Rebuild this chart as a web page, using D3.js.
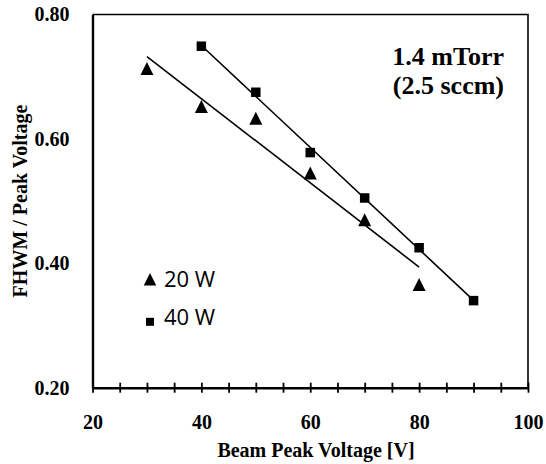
<!DOCTYPE html>
<html lang="en">
<head>
<meta charset="UTF-8" />
<script src="https://d3js.org/d3.v7.min.js"></script>
<title>FHWM vs beam peak voltage</title>
<style>
  body { margin: 0; background: #fff; }
  text { fill: #000; }
</style>
</head>
<body>
<script type="text/javascript">
// data
var voltages20 = [30, 40, 50, 60, 70, 80];
var fwhm20 = [0.713, 0.652, 0.633, 0.545, 0.470, 0.366];
var voltages40 = [40, 50, 60, 70, 80, 90];
var fwhm40 = [0.749, 0.675, 0.578, 0.505, 0.425, 0.340];
var seriesNames = ["20 W", "40 W"];
var xTicks = [20, 40, 60, 80, 100];
var xMinorTicks = d3.range(20, 101, 5);
var yTicks = [0.20, 0.40, 0.60, 0.80];
var noteLines = ["1.4 mTorr", "(2.5 sccm)"];

var width = 546, height = 464;
var plotL = 92.5, plotR = 528, plotT = 14.5, plotB = 387.7;
var serif = "'Liberation Serif', 'Times New Roman', serif";

var svg = d3.select("body").append("svg").attr("width", width).attr("height", height);

var x = d3.scaleLinear().domain([20, 100]).range([plotL, plotR]);
var y = d3.scaleLinear().domain([0.2, 0.8]).range([plotB, plotT]);

// frame top / right
svg.append("path")
  .attr("d", "M" + plotL + "," + plotT + "H" + plotR + "V" + plotB)
  .attr("fill", "none").attr("stroke", "#000").attr("stroke-width", 1.6);

// x axis with ticks crossing the line
var gx = svg.append("g").attr("transform", "translate(0," + plotB + ")")
  .call(d3.axisBottom(x).tickValues(xMinorTicks).tickSize(5).tickSizeOuter(0).tickFormat(""));
gx.select(".domain").attr("stroke-width", 2.4);
gx.selectAll(".tick line").attr("y1", -5).attr("y2", 5).attr("stroke-width", 1.8);

var gxl = svg.append("g").attr("transform", "translate(0," + plotB + ")")
  .call(d3.axisBottom(x).tickValues(xTicks).tickSize(0).tickPadding(27).tickFormat(d3.format("d")));
gxl.select(".domain").remove();
gxl.selectAll("text").attr("font-family", serif).attr("font-size", 20).attr("font-weight", "bold");

// y axis
var gy = svg.append("g").attr("transform", "translate(" + plotL + ",0)")
  .call(d3.axisLeft(y).tickValues(yTicks).tickSize(0).tickPadding(23).tickFormat(d3.format(".2f")));
gy.select(".domain").attr("stroke-width", 2.4);
gy.selectAll("text").attr("font-family", serif).attr("font-size", 20).attr("font-weight", "bold");

// axis titles
svg.append("text").attr("x", 316).attr("y", 456.5).attr("text-anchor", "middle")
  .attr("font-family", serif).attr("font-size", 20).attr("font-weight", "bold")
  .text("Beam Peak Voltage [V]");
svg.append("text").attr("transform", "translate(27,201) rotate(-90)").attr("text-anchor", "middle")
  .attr("font-family", serif).attr("font-size", 20).attr("font-weight", "bold")
  .text("FHWM / Peak Voltage");

// note
svg.append("g").selectAll("text").data(noteLines).enter().append("text")
  .attr("x", 504).attr("y", function(d, i) { return 65 + i * 28.5; })
  .attr("text-anchor", "end")
  .attr("font-family", serif).attr("font-size", 26).attr("font-weight", "bold")
  .text(function(d) { return d; });

// linear trendlines (least squares of each series)
function fit(xs, ys) {
  var mx = d3.mean(xs), my = d3.mean(ys);
  var sxy = d3.sum(xs, function(v, i) { return (v - mx) * (ys[i] - my); });
  var sxx = d3.sum(xs, function(v) { return (v - mx) * (v - mx); });
  var b = sxy / sxx;
  return function(v) { return my + b * (v - mx); };
}
var line = d3.line().x(function(d) { return x(d[0]); }).y(function(d) { return y(d[1]); });
[[voltages20, fwhm20], [voltages40, fwhm40]].forEach(function(s) {
  var f = fit(s[0], s[1]);
  var ends = d3.extent(s[0]);
  svg.append("path").datum(ends.map(function(v) { return [v, f(v)]; }))
    .attr("d", line).attr("fill", "none").attr("stroke", "#000").attr("stroke-width", 1.6);
});

// markers
var tri = {
  draw: function(ctx, size) {
    var h = Math.sqrt(size) / 2;
    ctx.moveTo(0, -h); ctx.lineTo(h, h); ctx.lineTo(-h, h); ctx.closePath();
  }
};
var triPath = d3.symbol().type(tri).size(13 * 13)();
var sqPath = d3.symbol().type(d3.symbolSquare).size(9.5 * 9.5)();

svg.append("g").selectAll("path").data(voltages20).enter().append("path")
  .attr("d", triPath)
  .attr("transform", function(d, i) { return "translate(" + x(d) + "," + y(fwhm20[i]) + ")"; });
svg.append("g").selectAll("path").data(voltages40).enter().append("path")
  .attr("d", sqPath)
  .attr("transform", function(d, i) { return "translate(" + x(d) + "," + y(fwhm40[i]) + ")"; });

// legend
var legend = svg.append("g");
var legendMarks = [
  { d: d3.symbol().type(tri).size(12.5 * 12.5)(), cy: 279.2 },
  { d: d3.symbol().type(d3.symbolSquare).size(8 * 8)(), cy: 321.8 }
];
seriesNames.forEach(function(name, i) {
  legend.append("path").attr("d", legendMarks[i].d).attr("transform", "translate(150," + legendMarks[i].cy + ")");
  legend.append("text").attr("x", 164).attr("y", 286.7 + i * 38.6)
    .attr("font-family", "'Open Sans', sans-serif").attr("font-size", 22)
    .text(name);
});
</script>
</body>
</html>
